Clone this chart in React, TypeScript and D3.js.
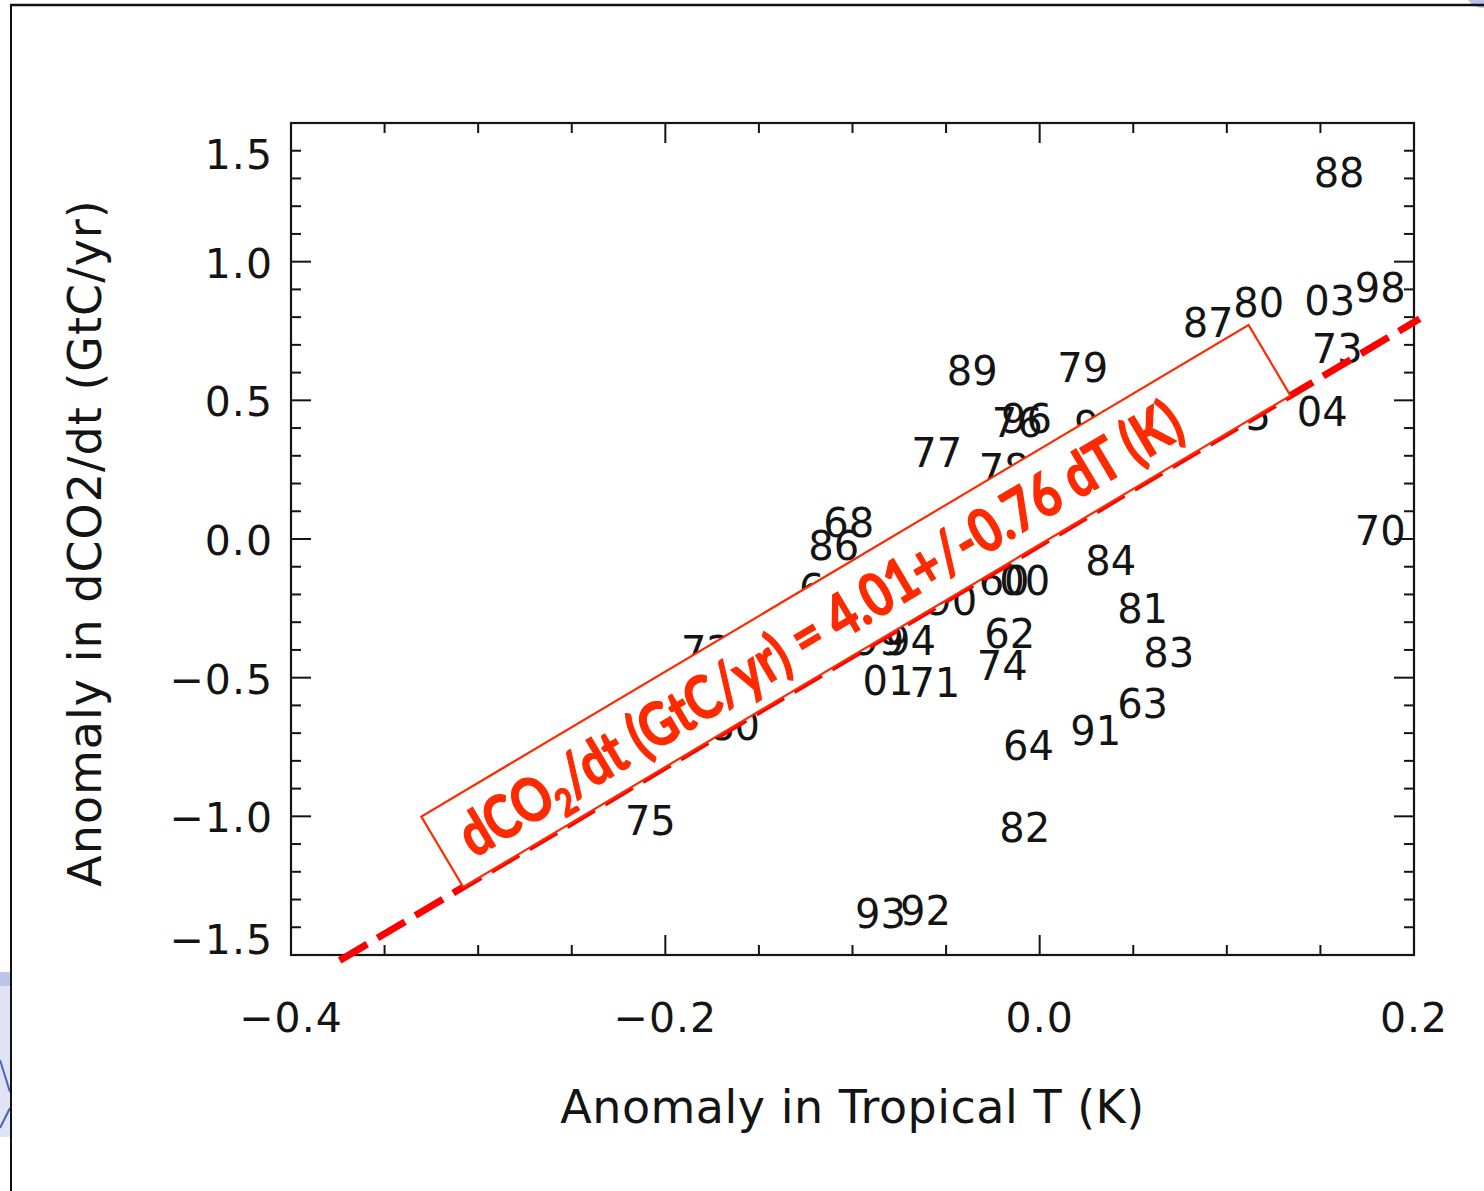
import React from "react";
import * as d3 from "d3";

// ---- data -------------------------------------------------------------
const yearLabels = [
  "88", "98", "03", "80", "87", "73", "04", "70",
  "89", "79", "76", "96", "77", "78", "68", "86",
  "97", "95", "84", "60", "00", "90", "94", "99",
  "01", "71", "62", "74", "81", "83", "63", "91",
  "64", "82", "93", "92", "75", "72", "80", "65",
];
const tempAnomaly = [
  0.160, 0.182, 0.155, 0.117, 0.090, 0.159, 0.151, 0.182,
  -0.036, 0.023, -0.012, -0.007, -0.055, -0.019, -0.102, -0.110,
  0.032, 0.110, 0.038, -0.019, -0.008, -0.047, -0.069, -0.086,
  -0.081, -0.056, -0.016, -0.020, 0.055, 0.069, 0.055, 0.030,
  -0.006, -0.008, -0.085, -0.061, -0.208, -0.178, -0.163, -0.115,
];
const co2Anomaly = [
  1.320, 0.905, 0.858, 0.851, 0.779, 0.685, 0.458, 0.029,
  0.606, 0.617, 0.418, 0.433, 0.310, 0.252, 0.058, -0.025,
  0.407, 0.444, -0.079, -0.151, -0.151, -0.224, -0.368, -0.368,
  -0.512, -0.519, -0.343, -0.458, -0.252, -0.411, -0.595, -0.692,
  -0.746, -1.042, -1.352, -1.341, -1.017, -0.404, -0.674, -0.180,
];

const xMajorTicks = [-0.4, -0.2, 0.0, 0.2];
const xTickLabels = ["\u22120.4", "\u22120.2", "0.0", "0.2"];
const yMajorTicks = [-1.5, -1.0, -0.5, 0.0, 0.5, 1.0, 1.5];
const yTickLabels = ["\u22121.5", "\u22121.0", "\u22120.5", "0.0", "0.5", "1.0", "1.5"];
const xMinorTicks = d3.range(-8, 5).map((i) => i * 0.05);
const yMinorTicks = d3.range(-15, 16).map((i) => i * 0.1);

const fitSlope = 4.01;
const fitIntercept = -0.02;
const fitRange = [-0.374, 0.203];
const boxRange = [-0.308, 0.134];

const xTitle = "Anomaly in Tropical T (K)";
const yTitle = "Anomaly in dCO2/dt (GtC/yr)";

// ---- layout -----------------------------------------------------------
const W = 1484;
const H = 1191;
const L = 291, R = 1414, T = 123, B = 955;

export default function App() {
  const x = d3.scaleLinear().domain([-0.4, 0.2]).range([L, R]);
  const y = d3.scaleLinear().domain([-1.5, 1.5]).range([B, T]);
  const fit = (v: number) => fitSlope * v + fitIntercept;

  const axisFont = "'DejaVu Sans', sans-serif";
  const ink = "#141414";
  const red = "#ff2a00";

  const lineGen = d3.line<number>().x((d) => x(d)).y((d) => y(fit(d)));

  // annotation box along fit line
  const p1 = [x(boxRange[0]), y(fit(boxRange[0]))];
  const p2 = [x(boxRange[1]), y(fit(boxRange[1]))];
  const dx = p2[0] - p1[0];
  const dy = p2[1] - p1[1];
  const len = Math.hypot(dx, dy);
  const ang = (Math.atan2(dy, dx) * 180) / Math.PI;
  const ux = dx / len, uy = dy / len;
  const nx = uy, ny = -ux; // perpendicular (pointing up-left)
  const boxH = 82;
  const cx = (p1[0] + p2[0]) / 2 + nx * (boxH / 2);
  const cy = (p1[1] + p2[1]) / 2 + ny * (boxH / 2);

  const isMajorX = (v: number) => xMajorTicks.some((m) => Math.abs(m - v) < 1e-6);
  const isMajorY = (v: number) => yMajorTicks.some((m) => Math.abs(m - v) < 1e-6);

  return (
    <div style={{ position: "absolute", left: 0, top: 0 }}>
      <svg width={W} height={H} style={{ display: "block", background: "#fff" }}>
        {/* slide decorations */}
        <rect x={0} y={972} width={10} height={165} fill="#dfe3f4" />
        <rect x={0} y={972} width={10} height={14} fill="#bcc4ea" />
        <path d="M0,1060 L10,1092 M0,1128 L10,1108" stroke="#4a63c0" strokeWidth={2} fill="none" />
        <path d="M1468,0 L1484,0 L1484,8 Q1474,8 1468,0 Z" fill="#b9c2ea" />
        <line x1={10} y1={5} x2={W} y2={5} stroke="#111" strokeWidth={2.5} />
        <line x1={11} y1={5} x2={11} y2={H} stroke="#111" strokeWidth={2} />

        {/* ticks */}
        <g stroke={ink} strokeWidth={2}>
          {xMinorTicks.map((v, i) => {
            const len2 = isMajorX(v) ? 20 : 10;
            return (
              <g key={"xt" + i}>
                <line x1={x(v)} x2={x(v)} y1={B} y2={B - len2} />
                <line x1={x(v)} x2={x(v)} y1={T} y2={T + len2} />
              </g>
            );
          })}
          {yMinorTicks.map((v, i) => {
            const len2 = isMajorY(v) ? 20 : 10;
            return (
              <g key={"yt" + i}>
                <line x1={L} x2={L + len2} y1={y(v)} y2={y(v)} />
                <line x1={R} x2={R - len2} y1={y(v)} y2={y(v)} />
              </g>
            );
          })}
        </g>
        <rect x={L} y={T} width={R - L} height={B - T} fill="none" stroke={ink} strokeWidth={2.2} />

        {/* tick labels */}
        <g fontFamily={axisFont} fontSize={41} fill={ink} letterSpacing={1}>
          {xMajorTicks.map((v, i) => (
            <text key={"xl" + i} x={x(v)} y={B + 63} textAnchor="middle" dominantBaseline="central">
              {xTickLabels[i]}
            </text>
          ))}
          {yMajorTicks.map((v, i) => {
            const off = v === 1.5 ? 32 : v === -1.5 ? -15 : 2;
            return (
              <text key={"yl" + i} x={L - 18} y={y(v) + off} textAnchor="end" dominantBaseline="central">
                {yTickLabels[i]}
              </text>
            );
          })}
        </g>

        {/* axis titles */}
        <text x={(L + R) / 2} y={1107} textAnchor="middle" dominantBaseline="central"
          fontFamily={axisFont} fontSize={46} fill={ink} letterSpacing={0.5}>
          {xTitle}
        </text>
        <text transform={`translate(85,${(T + B) / 2 + 4}) rotate(-90)`} textAnchor="middle"
          dominantBaseline="central" fontFamily={axisFont} fontSize={46} fill={ink} letterSpacing={1}>
          {yTitle}
        </text>

        {/* year labels */}
        <g fontFamily={axisFont} fontSize={40} fill={ink}>
          {yearLabels.map((lab, i) => (
            <text key={"p" + i} x={x(tempAnomaly[i])} y={y(co2Anomaly[i])}
              textAnchor="middle" dominantBaseline="central">
              {lab}
            </text>
          ))}
        </g>

        {/* fit line */}
        <path d={lineGen(fitRange) || ""} stroke="#ff0000" strokeWidth={7} strokeDasharray="32 12" fill="none" />

        {/* annotation */}
        <g transform={`translate(${cx},${cy}) rotate(${ang})`}>
          <rect x={-len / 2} y={-boxH / 2} width={len} height={boxH} fill="#fff" stroke={red} strokeWidth={2.2} />
          <text x={-len / 2 + 24} y={22} fontFamily="Lato, 'Open Sans', sans-serif" fontWeight={700}
            fontSize={60} fill={red} stroke={red} strokeWidth={1.4} textLength={830} lengthAdjust="spacingAndGlyphs">
            dCO<tspan fontSize={38} dy={12}>2</tspan><tspan dy={-12}>/dt (GtC/yr) = 4.01+/-0.76 dT (K)</tspan>
          </text>
        </g>
      </svg>
    </div>
  );
}
